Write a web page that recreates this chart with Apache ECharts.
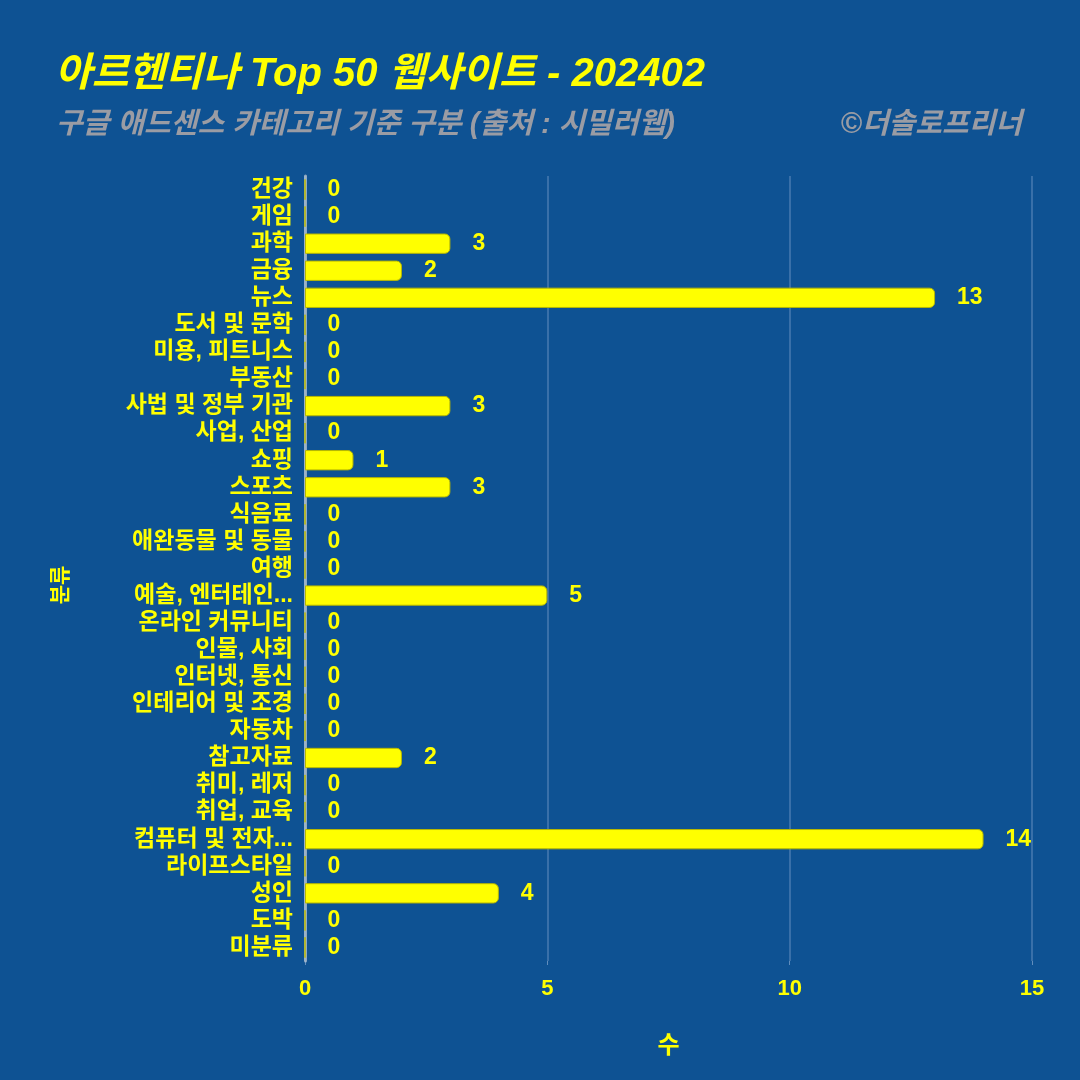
<!DOCTYPE html>
<html>
<head>
<meta charset="utf-8">
<script src="https://cdn.jsdelivr.net/npm/echarts@6/dist/echarts.min.js"></script>
<style>
html,body{margin:0;padding:0;background:#0e5293;}
#chart{width:1080px;height:1080px;}
</style>
</head>
<body>
<div id="chart"></div>
<script>
const categories = ["건강","게임","과학","금융","뉴스","도서 및 문학","미용, 피트니스","부동산","사법 및 정부 기관","사업, 산업","쇼핑","스포츠","식음료","애완동물 및 동물","여행","예술, 엔터테인...","온라인 커뮤니티","인물, 사회","인터넷, 통신","인테리어 및 조경","자동차","참고자료","취미, 레저","취업, 교육","컴퓨터 및 전자...","라이프스타일","성인","도박","미분류"];
const values = [0,0,3,2,13,0,0,0,3,0,1,3,0,0,0,5,0,0,0,0,0,2,0,0,14,0,4,0,0];
const xTicks = [0,5,10,15];
const titleText = "아르헨티나 Top 50 웹사이트 - 202402";
const subtitleText = "구글 애드센스 카테고리 기준 구분 (출처 : 시밀러웹)";
const creditText = "©더솔로프리너";
const xName = "수";
const yName = "분류";

const KFONT = "'Liberation Sans','Noto Sans CJK KR',sans-serif";
const chart = echarts.init(document.getElementById('chart'));
chart.setOption({
  backgroundColor: '#0e5293',
  animation: false,
  title: [
    {text: titleText, left: 50, top: 50, textStyle: {color: '#ffff00', fontSize: 40, fontWeight: 'bold', fontStyle: 'italic', fontFamily: KFONT}},
    {text: subtitleText, left: 51, top: 105, textStyle: {color: '#9a9ca4', fontSize: 29, fontWeight: 'bold', fontStyle: 'italic', fontFamily: KFONT}},
    {text: creditText, right: 53, top: 105, textStyle: {color: '#9a9ca4', fontSize: 29, fontWeight: 'bold', fontStyle: 'italic', fontFamily: KFONT}}
  ],
  graphic: [
    {type: 'text', x: 59, y: 585, rotation: Math.PI / 2,
     style: {text: yName, fill: '#ffff00', font: "bold 21px 'Noto Sans CJK KR'", textAlign: 'center', textVerticalAlign: 'middle'}}
  ],
  grid: {left: 305, right: 48, top: 176, bottom: 119, containLabel: false},
  xAxis: {
    type: 'value', min: 0, max: 15, interval: 5,
    name: xName, nameLocation: 'middle', nameGap: 73,
    nameTextStyle: {color: '#ffff00', fontSize: 24, fontWeight: 'bold', fontFamily: KFONT},
    axisLine: {show: false},
    axisTick: {show: true, length: 4, lineStyle: {color: 'rgba(180,200,230,0.5)'}},
    axisLabel: {color: '#ffff00', fontSize: 22, fontWeight: 'bold', margin: 17, fontFamily: KFONT,
      formatter: v => xTicks.includes(v) ? String(v) : ''},
    splitLine: {show: true, lineStyle: {color: 'rgba(180,200,230,0.35)', width: 1.5}}
  },
  yAxis: {
    type: 'category', data: categories, inverse: true,
    axisLine: {show: true, lineStyle: {color: 'rgba(190,200,210,0.75)', width: 3}},
    axisTick: {show: false},
    axisLabel: {interval: 0, color: '#ffff00', fontSize: 23, fontWeight: 'bold', margin: 12, fontFamily: KFONT},
    splitLine: {show: false}
  },
  series: [{
    type: 'bar', data: values, barCategoryGap: '25%',
    itemStyle: {color: '#ffff00', borderColor: '#b8b800', borderWidth: 1, borderRadius: [0, 5, 5, 0]},
    label: {show: true, position: 'right', distance: 22, color: '#ffff00', fontSize: 23, fontWeight: 'bold', fontFamily: KFONT}
  }]
});
</script>
</body>
</html>
